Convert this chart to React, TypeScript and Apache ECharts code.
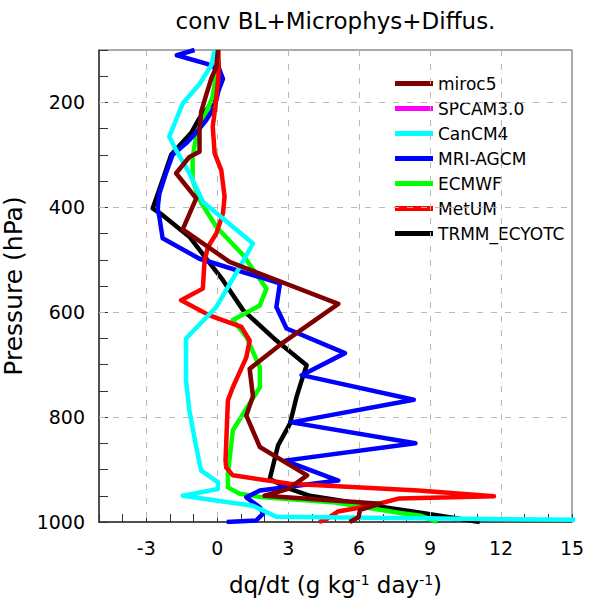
import React, { useEffect, useRef } from 'react';
import * as echarts from 'echarts';

const FONT = '"DejaVu Sans", "Liberation Sans", Arial, sans-serif';

const titleText = 'conv BL+Microphys+Diffus.';
const yAxisTitle = 'Pressure (hPa)';

// dashed reference lines
const xGridValues = [-3, 0, 3, 6, 9, 12];
const yGridValues = [200, 400, 600, 800];

// [dq/dt, pressure]
const miroc5: [number, number][] = [
  [0.03, 100], [-0.04, 132], [-0.25, 154], [-0.47, 186], [-0.68, 218], [-0.75, 253],
  [-0.75, 294], [-1.18, 304], [-1.74, 335], [-0.89, 383], [-1.46, 442], [0.52, 504],
  [5.12, 584], [2.72, 660], [1.37, 708], [1.51, 760], [1.23, 797], [1.8, 857],
  [3.8, 911], [3.0, 937], [2.0, 950], [6.9, 965], [6.04, 977], [5.97, 991], [5.6, 1000],
];
const spcam: [number, number][] = [];
const canCM4: [number, number][] = [
  [-0.11, 100], [-0.25, 129], [-0.75, 165], [-1.46, 202], [-2.03, 265], [-1.74, 291],
  [-1.18, 335], [-0.6, 390], [1.51, 469], [0.95, 514], [-0.04, 590], [-1.32, 650],
  [-1.32, 730], [-1.18, 787], [-0.89, 857], [-0.68, 902], [0.03, 924], [0.03, 937],
  [-1.46, 950], [1.51, 969], [2.5, 990], [15.5, 996],
];
const mriAgcm: [number, number][] = [
  [-0.96, 100], [-1.71, 110], [-0.4, 127], [0.1, 138], [0.24, 155], [0.05, 178],
  [-0.11, 208], [-0.47, 234], [-0.9, 258], [-1.32, 278], [-1.89, 300], [-2.17, 335],
  [-2.45, 374], [-2.52, 402], [-2.45, 418], [-2.31, 459], [-0.75, 498], [2.65, 545],
  [2.5, 590], [2.93, 631], [5.4, 678], [3.57, 720], [8.31, 767], [3.14, 810],
  [8.38, 850], [2.86, 883], [5.12, 921], [1.8, 940], [1.23, 953], [1.8, 972],
  [1.94, 984], [1.65, 997], [0.4, 1000],
];
const ecmwf: [number, number][] = [
  [0.03, 100], [-0.04, 144], [-0.2, 190], [-0.54, 227], [-0.89, 265], [-1.04, 304],
  [-1.04, 348], [-0.75, 386], [-0.04, 437], [1.09, 491], [2.08, 555], [1.8, 587],
  [0.66, 615], [1.23, 647], [1.8, 705], [1.8, 743], [1.09, 794], [0.66, 825],
  [0.45, 908], [0.45, 934], [0.95, 946], [1.94, 953], [5.0, 963], [7.74, 983],
  [8.6, 988], [9.3, 1000],
];
const metUM: [number, number][] = [
  [0.05, 100], [0.05, 150], [-0.05, 195], [-0.11, 218], [-0.19, 246], [-0.11, 297],
  [0.17, 329], [0.31, 380], [0.24, 412], [-0.04, 450], [-0.4, 476], [-0.54, 504],
  [-0.61, 555], [-1.53, 577], [-0.33, 606], [1.02, 628], [1.37, 654], [1.23, 686],
  [0.66, 743], [0.45, 768], [0.35, 883], [0.38, 896], [0.66, 911], [3.07, 927],
  [8.5, 940], [11.7, 951], [7.7, 955], [6.6, 968], [5.1, 980], [4.6, 995], [4.3, 1000],
];
const trmm: [number, number][] = [
  [0.0, 100], [0.1, 150], [-0.2, 200], [-0.75, 230], [-1.1, 258], [-1.95, 300],
  [-2.31, 348], [-2.73, 402], [-2.31, 415], [-1.18, 456], [0.24, 539], [1.09, 596],
  [2.5, 654], [3.78, 701], [3.57, 730], [3.35, 762], [3.07, 813], [2.57, 854],
  [2.22, 918], [3.07, 937], [3.92, 950], [6.04, 965], [8.87, 984], [11.1, 1000],
];

const legendOrder = ['miroc5', 'SPCAM3.0', 'CanCM4', 'MRI-AGCM', 'ECMWF', 'MetUM', 'TRMM_ECYOTC'];

// drawing order (first = bottom)
const seriesDefs: { name: string; color: string; data: [number, number][] }[] = [
  { name: 'TRMM_ECYOTC', color: '#000000', data: trmm },
  { name: 'ECMWF', color: '#00ff00', data: ecmwf },
  { name: 'MRI-AGCM', color: '#0000ff', data: mriAgcm },
  { name: 'MetUM', color: '#ff0000', data: metUM },
  { name: 'CanCM4', color: '#00ffff', data: canCM4 },
  { name: 'SPCAM3.0', color: '#ff00ff', data: spcam },
  { name: 'miroc5', color: '#800000', data: miroc5 },
];

const GRID = { left: 99, top: 50, width: 473, height: 472 };

export default function App() {
  const ref = useRef<HTMLDivElement>(null);
  useEffect(() => {
    const chart = echarts.init(ref.current!, null, { renderer: 'svg' });
    const gridLineStyle = { type: [6, 8], color: '#b8b8b8', width: 1 };
    const option: any = {
      animation: false,
      backgroundColor: '#ffffff',
      grid: {
        left: GRID.left,
        top: GRID.top,
        width: GRID.width,
        height: GRID.height,
        containLabel: false,
        outerBoundsMode: 'none',
        show: true,
        borderColor: '#555',
        borderWidth: 1,
        backgroundColor: 'transparent',
      },
      graphic: [
        {
          type: 'text',
          x: GRID.left + GRID.width / 2,
          y: 9,
          style: {
            text: titleText,
            fontSize: 23,
            fontFamily: FONT,
            fill: '#000',
            align: 'center',
            verticalAlign: 'top',
            textAlign: 'center',
            textVerticalAlign: 'top',
          },
        },
      ],
      legend: {
        data: legendOrder,
        orient: 'vertical',
        left: 390,
        top: 70,
        icon: 'rect',
        itemWidth: 38,
        itemHeight: 5,
        itemGap: 8,
        selectedMode: false,
        textStyle: { fontSize: 17, fontFamily: FONT, color: '#000', lineHeight: 17 },
      },
      xAxis: {
        type: 'value',
        min: -5,
        max: 15,
        interval: 1,
        name: 'dq/dt (g kg{sup|-1} day{sup|-1})',
        nameLocation: 'middle',
        nameGap: 51,
        nameTextStyle: {
          fontSize: 23,
          fontFamily: FONT,
          color: '#000',
          rich: {
            sup: { fontSize: 14, fontFamily: FONT, color: '#000', verticalAlign: 'top' },
          },
        },
        axisLine: { show: true, onZero: false, lineStyle: { color: '#333', width: 1.5 } },
        axisTick: { show: true, inside: true, length: 8, lineStyle: { color: '#333', width: 1 } },
        axisLabel: {
          fontSize: 19,
          fontFamily: FONT,
          color: '#000',
          margin: 16,
          showMinLabel: true,
          showMaxLabel: true,
          formatter: (v: number) => (Math.round(v) % 3 === 0 ? String(v) : ''),
        },
        splitLine: { show: false },
      },
      yAxis: {
        type: 'value',
        inverse: true,
        min: 100,
        max: 1000,
        interval: 50,
        name: yAxisTitle,
        nameLocation: 'middle',
        nameGap: 72,
        nameTextStyle: { fontSize: 25, fontFamily: FONT, color: '#000' },
        axisLine: { show: true, onZero: false, lineStyle: { color: '#333', width: 1.5 } },
        axisTick: { show: true, inside: true, length: 9, lineStyle: { color: '#333', width: 1 } },
        axisLabel: {
          fontSize: 19,
          fontFamily: FONT,
          color: '#000',
          margin: 14,
          showMinLabel: true,
          showMaxLabel: true,
          formatter: (v: number) => (Math.round(v) % 200 === 0 ? String(v) : ''),
        },
        splitLine: { show: false },
      },
      series: [
        {
          type: 'line',
          name: '__grid',
          data: [],
          silent: true,
          z: 1,
          markLine: {
            silent: true,
            symbol: 'none',
            animation: false,
            label: { show: false },
            lineStyle: gridLineStyle,
            data: [
              ...xGridValues.map((v) => ({ xAxis: v })),
              ...yGridValues.map((v) => ({ yAxis: v })),
            ],
          },
        },
        ...seriesDefs.map((s, i) => ({
          type: 'line',
          name: s.name,
          data: s.data,
          showSymbol: false,
          symbol: 'none',
          clip: true,
          z: 3 + i,
          lineStyle: { color: s.color, width: 4.5, join: 'round' },
          itemStyle: { color: s.color },
        })),
      ],
    };
    chart.setOption(option);
    return () => chart.dispose();
  }, []);
  return (
    <div
      ref={ref}
      style={{ position: 'fixed', left: 0, top: 0, width: 597, height: 606 }}
    />
  );
}
